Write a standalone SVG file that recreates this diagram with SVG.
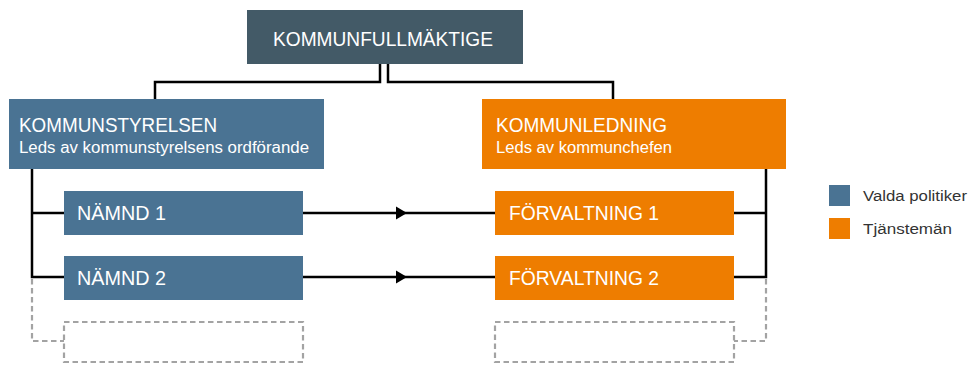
<svg xmlns="http://www.w3.org/2000/svg" width="974" height="365" viewBox="0 0 974 365">
<style>
.t{font-family:"Liberation Sans","DejaVu Sans",sans-serif;fill:#ffffff;}
.big{font-size:21px;}
.sub{font-size:16px;}
.leg{font-family:"Liberation Sans","DejaVu Sans",sans-serif;font-size:15.5px;fill:#333333;}
.ln{fill:none;stroke:#000000;stroke-width:2.5;}
.dash{fill:none;stroke:#a3a3a3;stroke-width:2.2;stroke-dasharray:5.5,3.5;}
.kf{fill:#435a67;}
.pol{fill:#4a7393;}
.tj{fill:#ee7d00;}
</style>
<rect width="974" height="365" fill="#ffffff"/>
<g id="connectors">
  <polyline class="ln" points="380,64 380,82 155,82 155,99"/>
  <polyline class="ln" points="388,64 388,82 613,82 613,99"/>
  <polyline class="ln" points="32,169 32,277 64,277"/>
  <line class="ln" x1="32" y1="213" x2="64" y2="213"/>
  <polyline class="ln" points="766,169 766,277 734,277"/>
  <line class="ln" x1="766" y1="213" x2="734" y2="213"/>
  <line class="ln" x1="303" y1="213" x2="495" y2="213"/>
  <line class="ln" x1="303" y1="277" x2="495" y2="277"/>
  <path d="M396,206.5 L407,213 L396,219.5 Z" fill="#000000"/>
  <path d="M396,270.5 L407,277 L396,283.5 Z" fill="#000000"/>
  <polyline class="dash" points="32,279 32,341 64,341"/>
  <polyline class="dash" points="766,279 766,341 734,341"/>
</g>
<g id="kommunfullmaktige">
  <rect class="kf" x="247" y="10" width="276" height="54"/>
  <text class="t big" x="273" y="46" textLength="220" lengthAdjust="spacingAndGlyphs">KOMMUNFULLMÄKTIGE</text>
</g>
<g id="kommunstyrelsen">
  <rect class="pol" x="9" y="99" width="315" height="70"/>
  <text class="t big" x="19" y="132" textLength="198" lengthAdjust="spacingAndGlyphs">KOMMUNSTYRELSEN</text>
  <text class="t sub" x="19" y="152.5" textLength="290" lengthAdjust="spacingAndGlyphs">Leds av kommunstyrelsens ordförande</text>
</g>
<g id="kommunledning">
  <rect class="tj" x="482" y="99" width="304" height="70"/>
  <text class="t big" x="496" y="132" textLength="171" lengthAdjust="spacingAndGlyphs">KOMMUNLEDNING</text>
  <text class="t sub" x="496" y="152.5" textLength="176" lengthAdjust="spacingAndGlyphs">Leds av kommunchefen</text>
</g>
<g id="namnd1">
  <rect class="pol" x="64" y="191" width="239" height="44"/>
  <text class="t big" x="77" y="220" textLength="89" lengthAdjust="spacingAndGlyphs">NÄMND 1</text>
</g>
<g id="namnd2">
  <rect class="pol" x="64" y="256" width="239" height="44"/>
  <text class="t big" x="77" y="285" textLength="89" lengthAdjust="spacingAndGlyphs">NÄMND 2</text>
</g>
<g id="forvaltning1">
  <rect class="tj" x="495" y="191" width="239" height="44"/>
  <text class="t big" x="509" y="220" textLength="150" lengthAdjust="spacingAndGlyphs">FÖRVALTNING 1</text>
</g>
<g id="forvaltning2">
  <rect class="tj" x="495" y="256" width="239" height="44"/>
  <text class="t big" x="509" y="285" textLength="150" lengthAdjust="spacingAndGlyphs">FÖRVALTNING 2</text>
</g>
<g id="namnd-placeholder">
  <rect class="dash" x="64" y="322" width="239" height="40"/>
</g>
<g id="forvaltning-placeholder">
  <rect class="dash" x="495" y="322" width="239" height="40"/>
</g>
<g id="legend">
  <rect class="pol" x="829" y="185" width="21" height="21"/>
  <text class="leg" x="863" y="200.5" textLength="104" lengthAdjust="spacingAndGlyphs">Valda politiker</text>
  <rect class="tj" x="829" y="218" width="21" height="21"/>
  <text class="leg" x="863" y="233.5" textLength="89" lengthAdjust="spacingAndGlyphs">Tjänstemän</text>
</g>
</svg>
